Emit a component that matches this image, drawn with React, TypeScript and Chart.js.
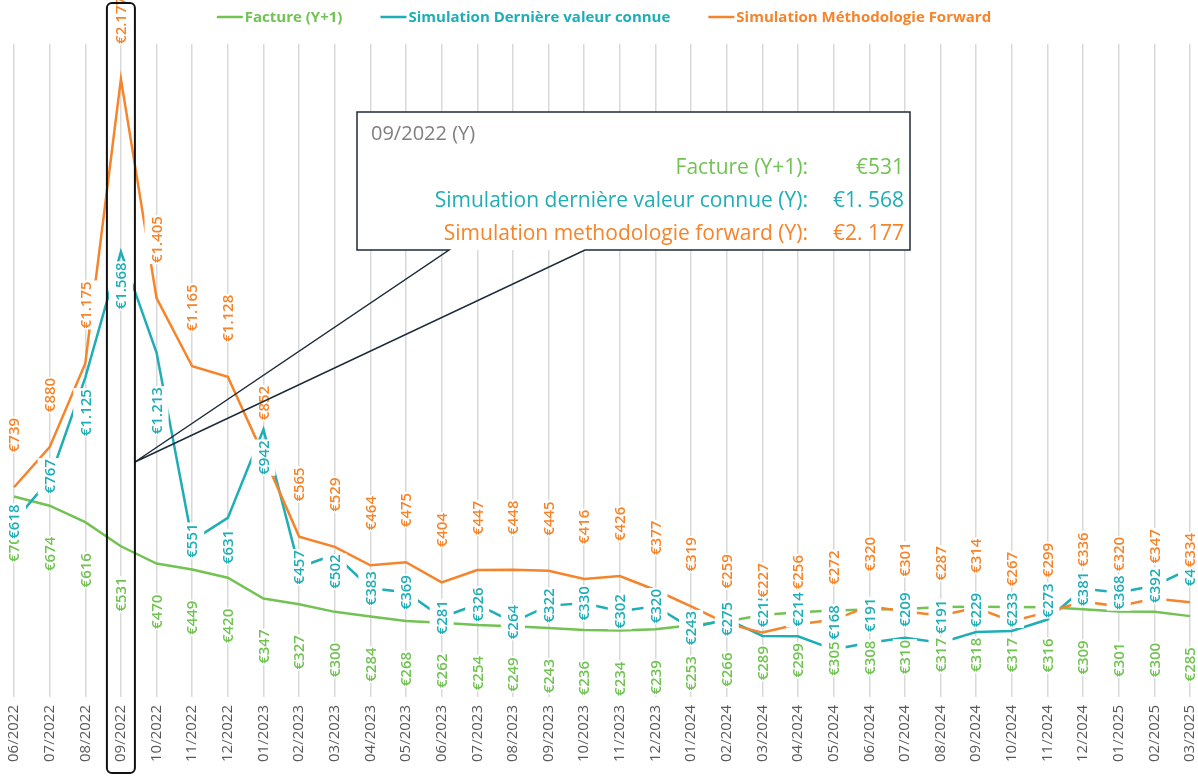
import React, { useEffect, useRef } from 'react';
import { Chart, registerables } from 'chart.js';

Chart.register(...registerables);

const MONTHS = [
  '06/2022', '07/2022', '08/2022', '09/2022', '10/2022', '11/2022', '12/2022',
  '01/2023', '02/2023', '03/2023', '04/2023', '05/2023', '06/2023', '07/2023',
  '08/2023', '09/2023', '10/2023', '11/2023', '12/2023', '01/2024', '02/2024',
  '03/2024', '04/2024', '05/2024', '06/2024', '07/2024', '08/2024', '09/2024',
  '10/2024', '11/2024', '12/2024', '01/2025', '02/2025', '03/2025',
];

const FACTURE = [
  706, 674, 616, 531, 470, 449, 420, 347, 327, 300, 284, 268, 262, 254, 249, 243, 236,
  234, 239, 253, 266, 289, 299, 305, 308, 310, 317, 318, 317, 316, 309, 301, 300, 285,
];

const SIM_DERNIERE = [
  618, 767, 1125, 1568, 1213, 551, 631, 942, 457, 502, 383, 369, 281, 326, 264, 322, 330,
  302, 320, 243, 275, 215, 214, 168, 191, 209, 191, 229, 233, 273, 381, 368, 392, 451,
];

const SIM_FORWARD = [
  739, 880, 1175, 2177, 1405, 1165, 1128, 852, 565, 529, 464, 475, 404, 447, 448, 445, 416,
  426, 377, 319, 259, 227, 256, 272, 320, 301, 287, 314, 267, 299, 336, 320, 347, 334,
];

const SERIES_NAMES = ['Facture (Y+1)', 'Simulation Dernière valeur connue', 'Simulation Méthodologie Forward'];
const CALLOUT_INDEX = 3;
const CALLOUT_TITLE = '09/2022 (Y)';
const CALLOUT_ROWS = ['Facture (Y+1):', 'Simulation dernière valeur connue (Y):', 'Simulation methodologie forward (Y):'];
const Y_MAX = 2300;

const GREEN = '#72C254';
const TEAL = '#1FAEB5';
const ORANGE = '#F5842A';
const COLORS = [GREEN, TEAL, ORANGE];

// manual label nudges (px) for the teal series, as in the original
const TEAL_LABEL_NUDGE: Record<number, number> = {
  1: -3, 2: 35, 3: 34, 4: 58, 6: 29, 7: 28, 9: 17,
  21: -26, 22: -27, 23: -27, 24: -28, 25: -28, 26: -26, 27: -22, 28: -21, 29: -19,
};

const FONT = '"Open Sans", "Noto Sans", sans-serif';

const fmtLabel = (v: number) =>
  v >= 1000 ? `€${Math.floor(v / 1000)}.${String(v % 1000).padStart(3, '0')}` : `€${v}`;
const fmtCallout = (v: number) =>
  v >= 1000 ? `€${Math.floor(v / 1000)}. ${String(v % 1000).padStart(3, '0')}` : `€${v}`;

const labelPlugin = {
  id: 'rotLabels',
  afterDatasetsDraw(chart: any) {
    const ctx = chart.ctx as CanvasRenderingContext2D;
    ctx.save();
    ctx.font = `600 15px ${FONT}`;
    chart.data.datasets.forEach((ds: any, di: number) => {
      const meta = chart.getDatasetMeta(di);
      meta.data.forEach((pt: any, i: number) => {
        const v = ds.data[i] as number;
        const text = fmtLabel(v);
        const w = ctx.measureText(text).width;
        let cy: number;
        if (di === 0) cy = pt.y + 31 + w / 2;
        else if (di === 1) cy = pt.y + (TEAL_LABEL_NUDGE[i] || 0);
        else cy = pt.y - 35 - w / 2;
        ctx.fillStyle = '#ffffff';
        ctx.fillRect(pt.x - 12, cy - w / 2 - 1, 24, w + 2);
        ctx.save();
        ctx.translate(pt.x, cy);
        ctx.rotate(-Math.PI / 2);
        ctx.fillStyle = ds.borderColor;
        ctx.textAlign = 'center';
        ctx.textBaseline = 'middle';
        ctx.fillText(text, 0, 1);
        ctx.restore();
      });
    });
    ctx.restore();
  },
};

const legendPlugin = {
  id: 'customLegend',
  afterDraw(chart: any) {
    const ctx = chart.ctx as CanvasRenderingContext2D;
    ctx.save();
    ctx.font = `bold 15px ${FONT}`;
    const marker = 26;
    const gap = 2;
    const spacing = 38;
    const widths = SERIES_NAMES.map((n) => marker + gap + ctx.measureText(n).width);
    const total = widths.reduce((a, b) => a + b, 0) + spacing * (SERIES_NAMES.length - 1);
    let x = (chart.width - total) / 2 + 5;
    const y = 17;
    SERIES_NAMES.forEach((n, i) => {
      ctx.strokeStyle = COLORS[i];
      ctx.lineWidth = 2.5;
      ctx.beginPath();
      ctx.moveTo(x, y);
      ctx.lineTo(x + marker, y);
      ctx.stroke();
      ctx.fillStyle = COLORS[i];
      ctx.textAlign = 'left';
      ctx.textBaseline = 'middle';
      ctx.fillText(n, x + marker + gap, y + 1);
      x += widths[i] + spacing;
    });
    ctx.restore();
  },
};

const annotPlugin = {
  id: 'annot',
  afterDraw(chart: any) {
    const ctx = chart.ctx as CanvasRenderingContext2D;
    const xs = chart.scales.x;
    const cx = xs.getPixelForValue(CALLOUT_INDEX);
    const box = { l: 357, t: 112, r: 910, b: 250 };
    const base1 = 449;
    const base2 = 585;
    const tip = { x: cx + 14, y: 462 };
    ctx.save();
    ctx.fillStyle = '#ffffff';
    ctx.fillRect(box.l, box.t, box.r - box.l, box.b - box.t);
    ctx.strokeStyle = '#1C2B3A';
    ctx.lineWidth = 1.5;
    ctx.beginPath();
    ctx.moveTo(base1, box.b);
    ctx.lineTo(box.l, box.b);
    ctx.lineTo(box.l, box.t);
    ctx.lineTo(box.r, box.t);
    ctx.lineTo(box.r, box.b);
    ctx.lineTo(base2, box.b);
    ctx.lineTo(tip.x, tip.y);
    ctx.closePath();
    ctx.stroke();

    ctx.font = `20px ${FONT}`;
    ctx.textBaseline = 'middle';
    ctx.textAlign = 'left';
    ctx.fillStyle = '#7F7F7F';
    ctx.fillText(CALLOUT_TITLE, 371, 134);

    const vals = [FACTURE[CALLOUT_INDEX], SIM_DERNIERE[CALLOUT_INDEX], SIM_FORWARD[CALLOUT_INDEX]];
    ctx.font = `21px ${FONT}`;
    CALLOUT_ROWS.forEach((r, i) => {
      const y = 168 + i * 33;
      ctx.fillStyle = COLORS[i];
      ctx.textAlign = 'right';
      ctx.fillText(r, 808, y);
      ctx.fillText(fmtCallout(vals[i]), 904, y);
    });

    // highlight rectangle around the selected month
    ctx.strokeStyle = '#111111';
    ctx.lineWidth = 2;
    ctx.beginPath();
    (ctx as any).roundRect(cx - 14, 3, 28, 770, 5);
    ctx.stroke();
    ctx.restore();
  },
};

export default function App() {
  const ref = useRef<HTMLCanvasElement>(null);
  useEffect(() => {
    Chart.defaults.font.family = FONT;
    const mk = (label: string, data: number[], color: string, order: number) => ({
      label,
      data,
      borderColor: color,
      backgroundColor: color,
      borderWidth: 2.5,
      pointRadius: 0,
      tension: 0,
      order,
    });
    const chart = new Chart(ref.current as HTMLCanvasElement, {
      type: 'line',
      data: {
        labels: MONTHS,
        datasets: [
          mk(SERIES_NAMES[0], FACTURE, GREEN, 3),
          mk(SERIES_NAMES[1], SIM_DERNIERE, TEAL, 2),
          mk(SERIES_NAMES[2], SIM_FORWARD, ORANGE, 1),
        ],
      },
      options: {
        responsive: false,
        animation: false,
        layout: { padding: { top: 44, left: 14, right: 8, bottom: 6 } },
        plugins: { legend: { display: false }, tooltip: { enabled: false } },
        scales: {
          x: {
            grid: { color: '#D9D9D9', lineWidth: 1.5, drawTicks: false },
            border: { display: false },
            ticks: {
              minRotation: 90,
              maxRotation: 90,
              autoSkip: false,
              padding: 8,
              color: '#595959',
              font: { size: 15, family: FONT, lineHeight: 1 },
            },
            afterFit: (s: any) => {
              s.paddingLeft = 0;
              s.paddingRight = 0;
            },
          },
          y: { display: false, min: 0, max: Y_MAX },
        },
      } as any,
      plugins: [labelPlugin, annotPlugin, legendPlugin],
    });
    return () => chart.destroy();
  }, []);
  return (
    <div style={{ position: 'fixed', left: 0, top: 0, width: 1198, height: 776, background: '#ffffff' }}>
      <canvas ref={ref} width={1198} height={776} style={{ display: 'block' }} />
    </div>
  );
}
